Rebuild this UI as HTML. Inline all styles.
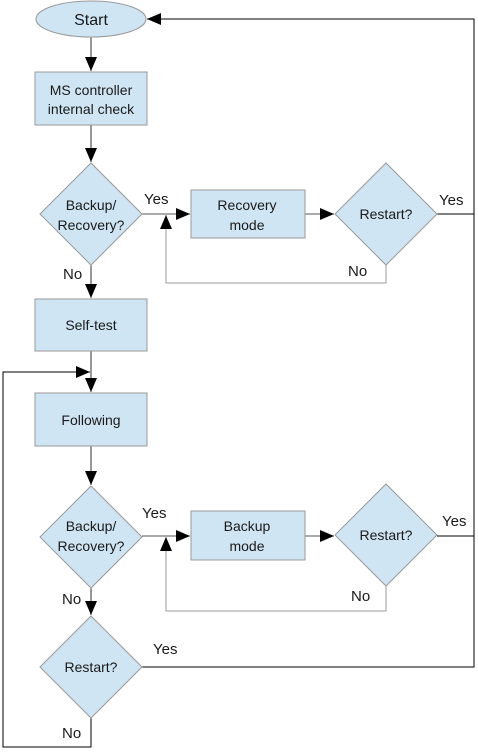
<!DOCTYPE html>
<html><head><meta charset="utf-8"><style>html,body{margin:0;padding:0;background:#fff}svg{display:block}text{font-family:"Liberation Sans",sans-serif;fill:#1a1a1a}</style></head>
<body>
<svg width="478" height="752" viewBox="0 0 478 752" xmlns="http://www.w3.org/2000/svg">
<defs>
<marker id="b" markerWidth="14" markerHeight="12" refX="14" refY="6" orient="auto" markerUnits="userSpaceOnUse"><path d="M0,0 L14,6 L0,12 Z" fill="#000"/></marker>
</defs>
<g fill="none" stroke-width="1">
<line x1="91" y1="37" x2="91" y2="71" stroke="#333" marker-end="url(#b)"/>
<line x1="91" y1="125" x2="91" y2="162" stroke="#333" marker-end="url(#b)"/>
<line x1="91" y1="265" x2="91" y2="298" stroke="#333" marker-end="url(#b)"/>
<line x1="91" y1="351" x2="91" y2="392" stroke="#333" marker-end="url(#b)"/>
<line x1="91" y1="446" x2="91" y2="485" stroke="#333" marker-end="url(#b)"/>
<line x1="91" y1="588" x2="91" y2="615" stroke="#333" marker-end="url(#b)"/>
<line x1="142" y1="214" x2="190" y2="214" stroke="#555" marker-end="url(#b)"/>
<line x1="305" y1="214" x2="334" y2="214" stroke="#555" marker-end="url(#b)"/>
<polyline points="386,265 386,283 166,283 166,215" stroke="#999" marker-end="url(#b)"/>
<line x1="142" y1="536" x2="190" y2="536" stroke="#555" marker-end="url(#b)"/>
<line x1="305" y1="536" x2="334" y2="536" stroke="#555" marker-end="url(#b)"/>
<polyline points="386,586 386,611 166,611 166,537" stroke="#999" marker-end="url(#b)"/>
<polyline points="437,214 474,214 474,19 147,19" stroke="#000" marker-end="url(#b)"/>
<polyline points="437,536 474,536 474,214" stroke="#000"/>
<polyline points="142,667 474,667 474,536" stroke="#000"/>
<polyline points="91,718 91,747 3,747 3,372 90,372" stroke="#000" marker-end="url(#b)"/>
</g>
<g fill="#cfe5f3" stroke="#999" stroke-width="1">
<ellipse cx="91" cy="19" rx="55" ry="18"/>
<rect x="35" y="72" width="112" height="53"/>
<polygon points="91,163 142,214 91,265 40,214"/>
<rect x="191" y="190" width="114" height="48"/>
<polygon points="386,163 437,214 386,265 335,214"/>
<rect x="35" y="299" width="112" height="52"/>
<rect x="35" y="393" width="112" height="53"/>
<polygon points="91,486 142,537 91,588 40,537"/>
<rect x="191" y="511" width="114" height="49"/>
<polygon points="386,484 437,535 386,586 335,535"/>
<polygon points="91,616 142,667 91,718 40,667"/>
</g>
<g font-size="14" text-anchor="middle">
<text x="91" y="25" font-size="16">Start</text>
<text x="91" y="95">MS controller</text>
<text x="91" y="114">internal check</text>
<text x="91" y="210">Backup/</text>
<text x="91" y="230">Recovery?</text>
<text x="247" y="210">Recovery</text>
<text x="247" y="230">mode</text>
<text x="386" y="219">Restart?</text>
<text x="91" y="330">Self-test</text>
<text x="91" y="425">Following</text>
<text x="91" y="531">Backup/</text>
<text x="91" y="551">Recovery?</text>
<text x="247" y="531">Backup</text>
<text x="247" y="551">mode</text>
<text x="386" y="540">Restart?</text>
<text x="91" y="672">Restart?</text>
</g>
<g font-size="15">
<text x="144" y="204">Yes</text>
<text x="439" y="205">Yes</text>
<text x="348" y="276">No</text>
<text x="63" y="279">No</text>
<text x="142" y="518">Yes</text>
<text x="442" y="526">Yes</text>
<text x="351" y="601">No</text>
<text x="62" y="604">No</text>
<text x="153" y="654">Yes</text>
<text x="62" y="738">No</text>
</g>
</svg>
</body></html>
